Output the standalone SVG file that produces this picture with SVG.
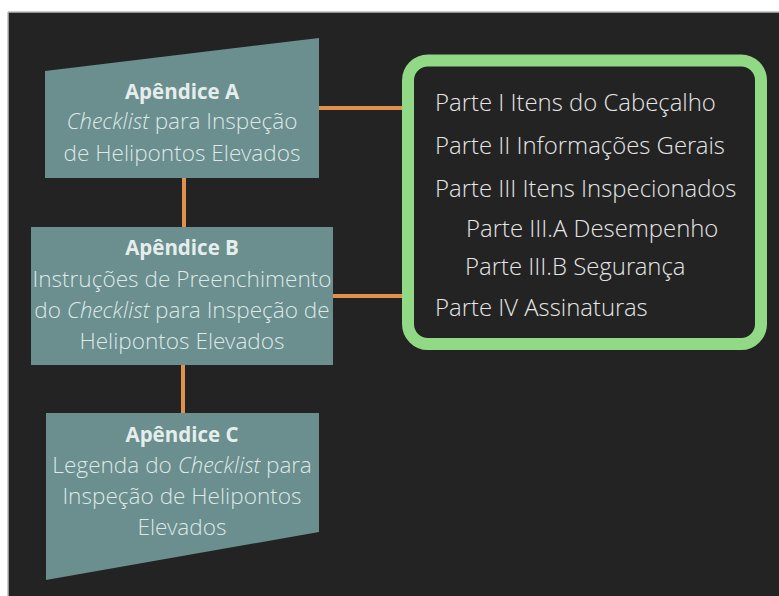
<svg xmlns="http://www.w3.org/2000/svg" width="779" height="596" viewBox="0 0 779 596">
<style>
.bg{fill:#232323}
.node{fill:#6b8e8e}
.t{font-family:"Open Sans Light","Open Sans","Liberation Sans",sans-serif;fill:#dde9e7;text-anchor:middle;font-size:22.6px;font-weight:300}
.b{font-family:"Open Sans","Liberation Sans",sans-serif;font-weight:700;font-size:20.5px;fill:#e6eeed}
.i{font-style:italic}
.lt{font-family:"Open Sans Light","Open Sans","Liberation Sans",sans-serif;fill:#e6e6e6;font-size:23.9px;font-weight:300}
.conn{stroke:#e0914e;stroke-width:4;fill:none}
.frame{fill:#232323;stroke:#91d985;stroke-width:12}
</style>
<rect x="0" y="0" width="779" height="596" fill="#ffffff"/>
<rect class="bg" x="8" y="12" width="771" height="584"/>
<line x1="8" y1="12" x2="779" y2="12" stroke="#bdbdbd" stroke-width="1.5"/>
<line x1="8" y1="12" x2="8" y2="596" stroke="#bdbdbd" stroke-width="1.5"/>
<g id="connectors">
<line class="conn" x1="184" y1="178" x2="184" y2="227"/>
<line class="conn" x1="183" y1="365" x2="183" y2="413"/>
<line class="conn" x1="319" y1="108" x2="404" y2="108"/>
<line class="conn" x1="333" y1="296" x2="404" y2="296"/>
</g>
<g id="apendiceA">
<polygon class="node" points="45,71 319,38 319,178 45,178"/>
<text class="t b" x="182" y="99">Apêndice A</text>
<text class="t" x="182" y="129"><tspan class="i">Checklist</tspan> para Inspeção</text>
<text class="t" x="182" y="161">de Helipontos Elevados</text>
</g>
<g id="apendiceB">
<rect class="node" x="31" y="227" width="302" height="138"/>
<text class="t b" x="182" y="255">Apêndice B</text>
<text class="t" x="182" y="287">Instruções de Preenchimento</text>
<text class="t" x="182" y="318">do <tspan class="i">Checklist</tspan> para Inspeção de</text>
<text class="t" x="182" y="349">Helipontos Elevados</text>
</g>
<g id="apendiceC">
<polygon class="node" points="46,413 319,413 319,532 46,580"/>
<text class="t b" x="182" y="442">Apêndice C</text>
<text class="t" x="182" y="473">Legenda do <tspan class="i">Checklist</tspan> para</text>
<text class="t" x="182" y="504">Inspeção de Helipontos</text>
<text class="t" x="182" y="535">Elevados</text>
</g>
<g id="partes">
<rect class="frame" x="408" y="60.5" width="353" height="283.5" rx="20"/>
<text class="lt" x="435" y="111">Parte I Itens do Cabeçalho</text>
<text class="lt" x="435" y="154">Parte II Informações Gerais</text>
<text class="lt" x="435" y="197">Parte III Itens Inspecionados</text>
<text class="lt" x="466" y="237">Parte III.A Desempenho</text>
<text class="lt" x="465" y="275">Parte III.B Segurança</text>
<text class="lt" x="435" y="316">Parte IV Assinaturas</text>
</g>
</svg>
